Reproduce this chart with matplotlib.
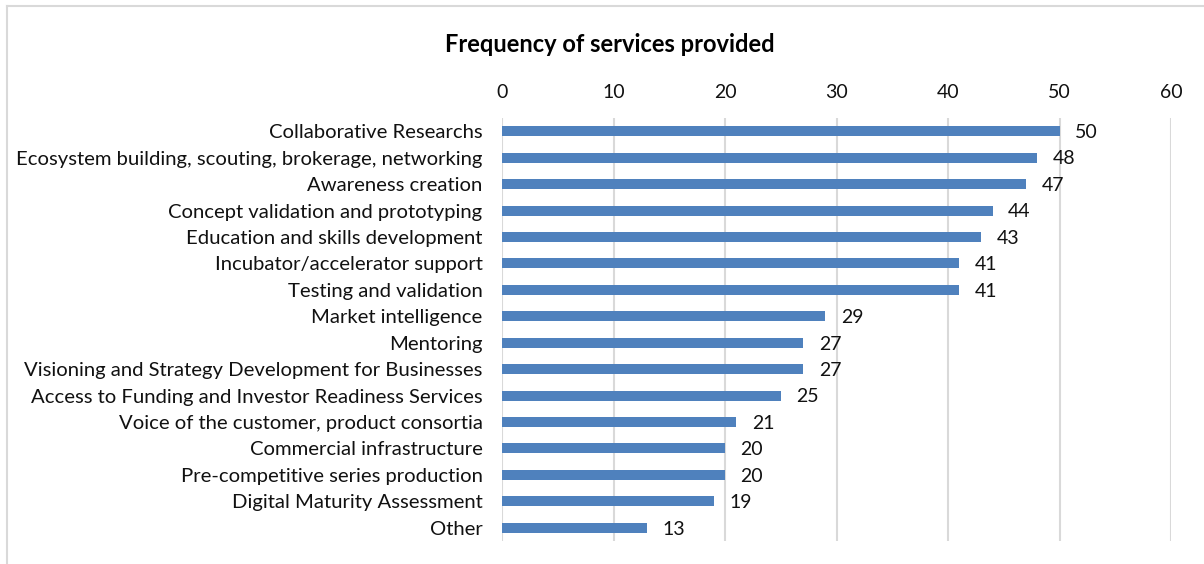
import matplotlib.pyplot as plt
from matplotlib.lines import Line2D

services = [
    'Collaborative Researchs',
    'Ecosystem building, scouting, brokerage, networking',
    'Awareness creation',
    'Concept validation and prototyping',
    'Education and skills development',
    'Incubator/accelerator support',
    'Testing and validation',
    'Market intelligence',
    'Mentoring',
    'Visioning and Strategy Development for Businesses',
    'Access to Funding and Investor Readiness Services',
    'Voice of the customer, product consortia',
    'Commercial infrastructure',
    'Pre-competitive series production',
    'Digital Maturity Assessment',
    'Other',
]
counts = [50, 48, 47, 44, 43, 41, 41, 29, 27, 27, 25, 21, 20, 20, 19, 13]
x_ticks = [0, 10, 20, 30, 40, 50, 60]

plt.rcParams['font.family'] = ['Lato', 'DejaVu Sans']

fig = plt.figure(figsize=(12.04, 5.64), dpi=100)
ax = fig.add_axes([502 / 1204, 1 - 541 / 564, (1171 - 502) / 1204, (541 - 118) / 564])

ypos = list(range(len(services)))
ax.barh(ypos, counts, height=0.38, color='#4F81BD', zorder=3)
for y, v in zip(ypos, counts):
    ax.text(v + 1.4, y + 0.05, str(v), va='center', ha='left', fontsize=14, color='#111111')

ax.set_xlim(0, 60)
ax.set_ylim(len(services) - 0.5, -0.5)
ax.set_yticks(ypos)
ax.set_yticklabels(services, fontsize=14.6)
ax.set_xticks(x_ticks)
ax.xaxis.tick_top()
ax.tick_params(axis='both', length=0, labelsize=14, colors='#111111')
ax.tick_params(axis='y', labelsize=14.6)
ax.tick_params(axis='x', pad=12)
ax.tick_params(axis='y', pad=14)
ax.grid(axis='x', color='#D9D9D9', linewidth=1.5, zorder=0)
for s in ax.spines.values():
    s.set_visible(False)

fig.text(610 / 1204, 1 - 44 / 564, 'Frequency of services provided', ha='center', va='center',
         fontsize=17, fontweight='bold')

# outer chart border (left and top only visible)
fig.add_artist(Line2D([7 / 1204, 7 / 1204], [0, 1 - 6 / 564], color='#D9D9D9', linewidth=1.5))
fig.add_artist(Line2D([7 / 1204, 1], [1 - 6 / 564, 1 - 6 / 564], color='#D9D9D9', linewidth=1.5))

fig.savefig('out.png', dpi=100)
